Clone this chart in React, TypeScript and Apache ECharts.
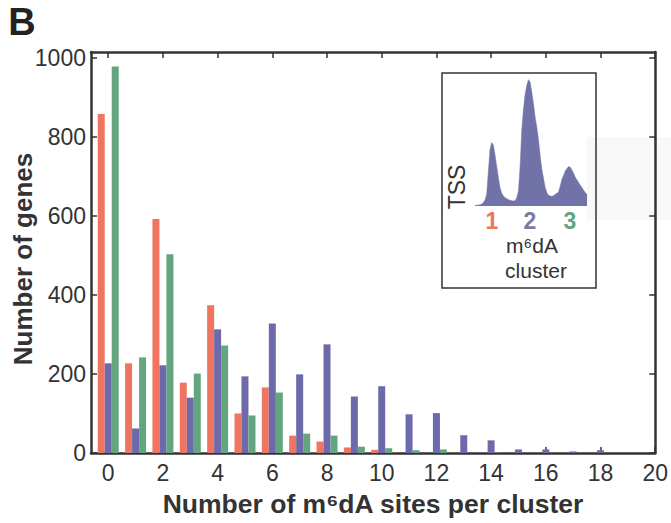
import React, { useEffect, useRef } from "react";
import * as echarts from "echarts";

const sitesPerCluster = [0, 1, 2, 3, 4, 5, 6, 7, 8, 9, 10, 11, 12, 13, 14, 15, 16, 17, 18, 19, 20];
const cluster1 = [858, 227, 592, 178, 374, 100, 166, 44, 29, 14, 8, 0, 0, 0, 0, 0, 0, 0, 0, 0, 0];
const cluster2 = [227, 62, 222, 140, 313, 194, 328, 199, 275, 143, 169, 98, 101, 45, 32, 9, 9, 4, 7, 0, 0];
const cluster3 = [978, 242, 503, 201, 272, 95, 153, 49, 44, 16, 12, 7, 9, 0, 1, 0, 0, 0, 0, 0, 0];
const xTickValues = [0, 2, 4, 6, 8, 10, 12, 14, 16, 18, 20];
const yTickValues = [0, 200, 400, 600, 800, 1000];

// inset: TSS-relative density of m6dA positions (arbitrary units)
const insetDensity = [
  2, 2, 3, 4, 6, 10, 18, 35, 105, 170, 190, 182, 152, 118, 84, 54, 38, 30, 25, 22, 19, 17, 16, 15,
  16, 25, 45, 120, 230, 290, 335, 362, 378, 370, 340, 305, 265, 235, 198, 150, 110, 82, 55, 40, 32,
  30, 29, 31, 35, 38, 42, 60, 80, 92, 105, 112, 118, 116, 108, 97, 86, 78, 70, 62, 55, 47, 40, 35,
];
const insetClusters = ["1", "2", "3"];

const RED = "#f07561";
const BLUE = "#6c6aaa";
const GREEN = "#63a57e";
const DARK = "#333333";
const FONT = "Liberation Sans, Arial, Helvetica, sans-serif";

export default function App() {
  const ref = useRef<HTMLDivElement>(null);
  useEffect(() => {
    if (!ref.current) return;
    const chart = echarts.init(ref.current, null, { renderer: "svg" });
    const pairs = (vals: number[]) => sitesPerCluster.map((x, i) => [x, vals[i]]);
    const axisLine = () => ({ show: true, onZero: false, lineStyle: { color: DARK, width: 2.5 } });
    const tick = (vals: number[]) => ({
      show: true,
      inside: true,
      length: 6,
      customValues: vals,
      lineStyle: { color: DARK, width: 1.5 },
    });
    const insetClusterColors = [RED, "#7a7aa8", GREEN];
    const insetClusterX = [492, 530, 570];
    chart.setOption({
      animation: false,
      grid: [
        { left: 91, right: 15, top: 52, bottom: 70, containLabel: false },
        { left: 475, top: 79, width: 112, height: 127 },
      ],
      xAxis: [
        {
          type: "value",
          gridIndex: 0,
          position: "bottom",
          min: -0.63,
          max: 20,
          axisLine: axisLine(),
          axisTick: tick(xTickValues),
          axisLabel: {
            customValues: xTickValues,
            formatter: (v: number) => String(v),
            fontSize: 23,
            color: DARK,
            fontFamily: FONT,
            margin: 8,
          },
          splitLine: { show: false },
        },
        {
          type: "value",
          gridIndex: 0,
          position: "top",
          min: -0.63,
          max: 20,
          axisLine: axisLine(),
          axisTick: tick(xTickValues),
          axisLabel: { show: false },
          splitLine: { show: false },
        },
        {
          type: "category",
          gridIndex: 1,
          boundaryGap: false,
          data: insetDensity.map((_, i) => i),
          show: false,
        },
      ],
      yAxis: [
        {
          type: "value",
          gridIndex: 0,
          position: "left",
          min: 0,
          max: 1015,
          axisLine: axisLine(),
          axisTick: tick(yTickValues),
          axisLabel: {
            customValues: yTickValues,
            formatter: (v: number) => String(v),
            fontSize: 23,
            color: DARK,
            fontFamily: FONT,
            margin: 5,
          },
          splitLine: { show: false },
        },
        {
          type: "value",
          gridIndex: 0,
          position: "right",
          min: 0,
          max: 1015,
          axisLine: axisLine(),
          axisTick: tick(yTickValues),
          axisLabel: { show: false },
          splitLine: { show: false },
        },
        { type: "value", gridIndex: 1, min: 0, max: 380, show: false },
      ],
      series: [
        { type: "bar", name: "Cluster 1", xAxisIndex: 0, yAxisIndex: 0, data: pairs(cluster1), barWidth: 7, barGap: "0%", itemStyle: { color: RED } },
        { type: "bar", name: "Cluster 2", xAxisIndex: 0, yAxisIndex: 0, data: pairs(cluster2), barWidth: 7, barGap: "0%", itemStyle: { color: BLUE } },
        { type: "bar", name: "Cluster 3", xAxisIndex: 0, yAxisIndex: 0, data: pairs(cluster3), barWidth: 7, barGap: "0%", itemStyle: { color: GREEN } },
        {
          type: "line",
          name: "TSS density",
          xAxisIndex: 2,
          yAxisIndex: 2,
          data: insetDensity,
          symbol: "none",
          lineStyle: { width: 0.5, color: "#7173a8" },
          areaStyle: { color: "#7173a8", opacity: 1 },
        },
      ],
      graphic: [
        { type: "rect", z: 0, shape: { x: 587, y: 137, width: 84, height: 83 }, style: { fill: "#f8f8f8" } },
        {
          type: "rect",
          z: 10,
          shape: { x: 442, y: 73, width: 154, height: 215 },
          style: { fill: "none", stroke: DARK, lineWidth: 1.5 },
        },
        {
          type: "text",
          z: 10,
          x: 22,
          y: 22,
          style: { text: "B", fontSize: 38, fontWeight: "bold", fill: "#222", fontFamily: FONT, textAlign: "center", textVerticalAlign: "middle" },
        },
        {
          type: "text",
          z: 10,
          x: 23,
          y: 259,
          rotation: Math.PI / 2,
          style: { text: "Number of genes", fontSize: 26, fontWeight: "bold", fill: DARK, fontFamily: FONT, textAlign: "center", textVerticalAlign: "middle" },
        },
        {
          type: "text",
          z: 10,
          x: 373,
          y: 504,
          style: {
            text: "Number of m⁶dA sites per cluster",
            fontSize: 26.5,
            fontWeight: "bold",
            fill: DARK,
            fontFamily: FONT,
            textAlign: "center",
            textVerticalAlign: "middle",
          },
        },
        {
          type: "text",
          z: 10,
          x: 457,
          y: 187,
          rotation: Math.PI / 2,
          style: { text: "TSS", fontSize: 23, fill: DARK, fontFamily: FONT, textAlign: "center", textVerticalAlign: "middle" },
        },
        ...insetClusters.map((c, i) => ({
          type: "text",
          z: 10,
          x: insetClusterX[i],
          y: 221,
          style: { text: c, fontSize: 23, fontWeight: "bold", fill: insetClusterColors[i], fontFamily: FONT, textAlign: "center", textVerticalAlign: "middle" },
        })),
        {
          type: "text",
          z: 10,
          x: 532,
          y: 245,
          style: { text: "m⁶dA", fontSize: 21, lineHeight: 21, fill: DARK, fontFamily: FONT, textAlign: "center", textVerticalAlign: "middle" },
        },
        {
          type: "text",
          z: 10,
          x: 536,
          y: 270,
          style: { text: "cluster", fontSize: 21, lineHeight: 21, fill: DARK, fontFamily: FONT, textAlign: "center", textVerticalAlign: "middle" },
        },
      ],
    });
    return () => chart.dispose();
  }, []);
  return <div ref={ref} style={{ width: 671, height: 523, position: "absolute", left: 0, top: 0 }} />;
}
